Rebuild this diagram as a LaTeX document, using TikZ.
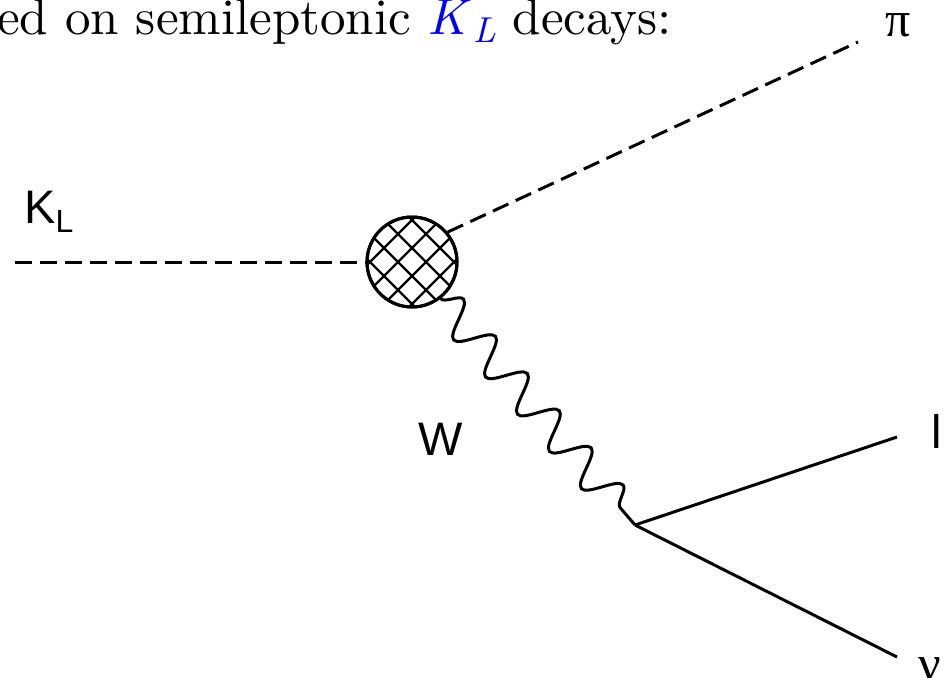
\documentclass[tikz,border=0pt]{standalone}
\usepackage{fontspec}
\setmainfont{lmroman10-regular.otf}[ItalicFont=lmroman10-italic.otf]
\newfontfamily\labfont{Liberation Sans}
\newfontfamily\grkfont{Liberation Serif}
\usetikzlibrary{decorations.pathmorphing}
\tikzset{
  prop/.style={line width=3pt},
  scalar/.style={prop, dash pattern=on 17pt off 8pt},
  boson/.style={prop, decorate, decoration={snake, amplitude=17pt, segment length=49pt}},
  lab/.style={font=\labfont\fontsize{47}{50}\selectfont, inner sep=0pt},
  grk/.style={font=\grkfont\fontsize{50}{52}\selectfont, inner sep=0pt},
}
\begin{document}
\begin{tikzpicture}[x=1pt,y=-1pt]
\useasboundingbox (0,0) rectangle (949,677);
\clip (0,0) rectangle (949,677);
\fill[white] (0,0) rectangle (949,677);
% heading fragment
\node[anchor=base east, inner sep=0pt, font=\fontsize{51}{54}\selectfont] (head) at (672,35) {ed on semileptonic \textcolor{blue}{\textit{K}\kern0.03em\raisebox{-0.15em}{\fontsize{36}{40}\selectfont\textit{L}}} decays:};
% blob
\node[circle, draw, prop, minimum size=90pt, inner sep=0pt] (blob) at (412,262) {};
\begin{scope}
  \clip (412,262) circle (45pt);
  \foreach \k in {-5,...,5}{
    \draw[line width=2.3pt] ({350},{350-164-28*\k}) -- ({475},{475-164-28*\k});
    \draw[line width=2.3pt] ({350},{660+28*\k-350}) -- ({475},{660+28*\k-475});
  }
\end{scope}
\node[circle, draw, prop, minimum size=90pt, inner sep=0pt] at (412,262) {};
% points
\coordinate (kin) at (15,262);
\coordinate (piend) at (858,42);
\coordinate (vtx) at (635,525);
\coordinate (lend) at (897,437);
\coordinate (nuend) at (897,657);
% lines
\draw[scalar] (kin) -- (blob.west);
\draw[scalar] (blob.40) -- (piend);
\draw[boson] (blob.-52) -- (vtx);
\draw[prop] (vtx) -- (lend);
\draw[prop] (vtx) -- (nuend);
% labels
\node[lab, anchor=base west] (kl) at (24,223) {K\raisebox{-0.21em}{\fontsize{32}{34}\selectfont L}};
\node[lab, anchor=base] (wl) at (441,455) {W};
\node[lab, anchor=base] (ll) at (937,448) {l};
\node[grk, anchor=base] (pil) at (898,37) {π};
\node[grk, anchor=base west] (nul) at (918,680) {ν};
\end{tikzpicture}
\end{document}
